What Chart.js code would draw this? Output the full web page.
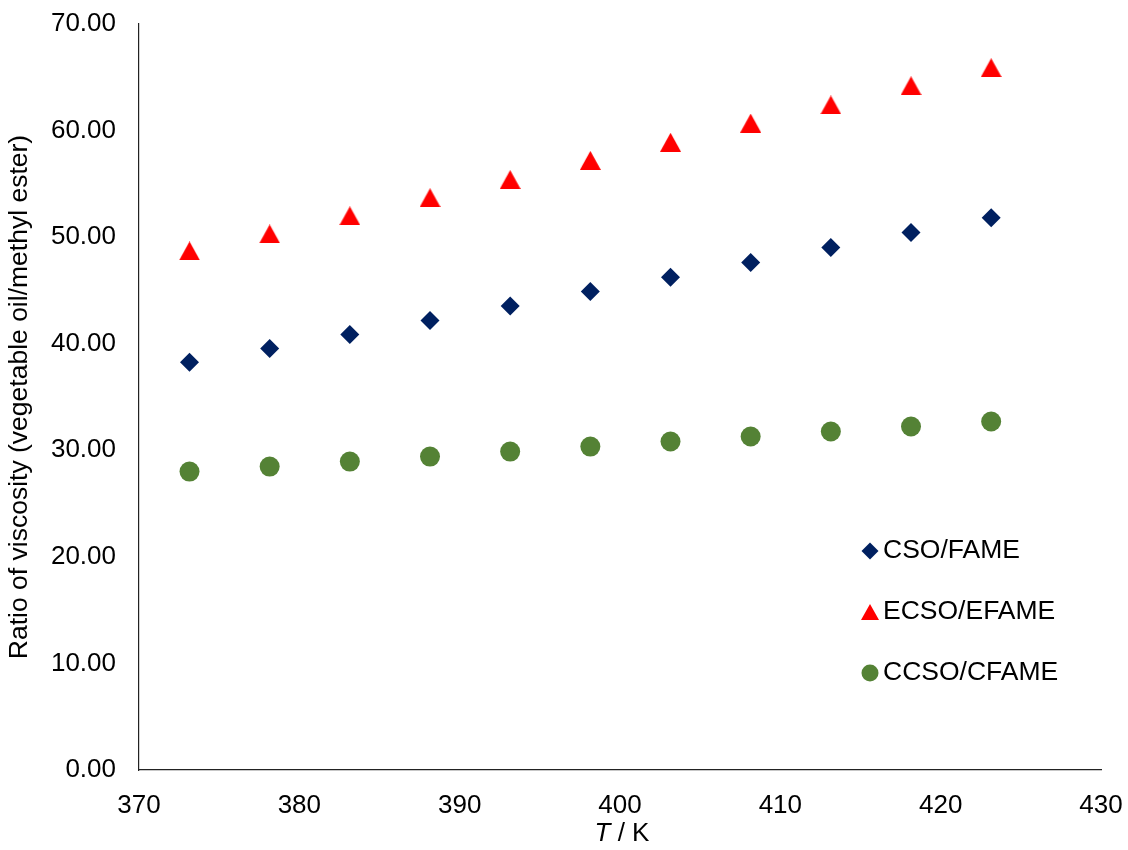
<!DOCTYPE html>
<html>
<head>
<meta charset="utf-8">
<script src="https://cdn.jsdelivr.net/npm/chart.js@4.4.1/dist/chart.umd.min.js"></script>
<style>
  html, body { margin: 0; padding: 0; background: #fff; }
  #wrap { width: 1128px; height: 850px; }
</style>
</head>
<body>
<div id="wrap"><canvas id="viscChart" width="1128" height="850"></canvas></div>
<script>
// temperatures, K
const temps = [373.15, 378.15, 383.15, 388.15, 393.15, 398.15, 403.15, 408.15, 413.15, 418.15, 423.15];

// ratio of viscosity (vegetable oil / methyl ester)
const csoFame = [38.25, 39.55, 40.87, 42.18, 43.55, 44.90, 46.24, 47.62, 49.03, 50.43, 51.82];
const ecsoEfame = [48.7, 50.3, 52.0, 53.7, 55.4, 57.2, 58.9, 60.7, 62.4, 64.2, 65.9];
const ccsoCfame = [28.0, 28.47, 28.94, 29.41, 29.88, 30.35, 30.82, 31.29, 31.76, 32.23, 32.7];

const seriesNames = ['CSO/FAME', 'ECSO/EFAME', 'CCSO/CFAME'];
const seriesColors = ['#002060', '#FF0000', '#548235'];

const FONT = '"Liberation Sans", Arial, Helvetica, sans-serif';

// triangle centred on its box, like the Excel marker
function triangleImage(w, h, color) {
  const c = document.createElement('canvas');
  c.width = w; c.height = h;
  const g = c.getContext('2d');
  g.fillStyle = color;
  g.beginPath();
  g.moveTo(w / 2, 0);
  g.lineTo(w, h);
  g.lineTo(0, h);
  g.closePath();
  g.fill();
  return c;
}

const triBig = triangleImage(21, 19, seriesColors[1]);
const triSmall = triangleImage(18, 16, seriesColors[1]);

function toPoints(ys) {
  return temps.map((t, i) => ({ x: t, y: ys[i] }));
}

// stop the scales from pushing the plot area in for their end labels
function noScalePadding(scale) {
  scale.paddingTop = 0;
  scale.paddingBottom = 0;
  scale.paddingLeft = 0;
  scale.paddingRight = 0;
}

// legend drawn inside the plot, lower right
const insideLegend = {
  id: 'insideLegend',
  afterDraw(chart) {
    const ctx = chart.ctx;
    const rows = [551, 612, 673];
    const mx = 870, tx = 883;
    ctx.save();
    ctx.font = '26.5px ' + FONT;
    ctx.textBaseline = 'middle';
    ctx.textAlign = 'left';
    rows.forEach((y, i) => {
      ctx.fillStyle = seriesColors[i];
      if (i === 0) {
        ctx.beginPath();
        ctx.moveTo(mx, y - 8.5);
        ctx.lineTo(mx + 8.5, y);
        ctx.lineTo(mx, y + 8.5);
        ctx.lineTo(mx - 8.5, y);
        ctx.closePath();
        ctx.fill();
      } else if (i === 1) {
        ctx.drawImage(triSmall, mx - 9, y - 8);
      } else {
        ctx.beginPath();
        ctx.arc(mx, y, 8.5, 0, Math.PI * 2);
        ctx.fill();
      }
      ctx.fillStyle = '#000';
      ctx.fillText(seriesNames[i], tx, y);
    });
    ctx.restore();
  }
};

// x axis title with italic T
const xTitle = {
  id: 'xTitle',
  afterDraw(chart) {
    const ctx = chart.ctx;
    const area = chart.chartArea;
    const cx = (area.left + area.right) / 2 + 2;
    const y = 834;
    ctx.save();
    ctx.textBaseline = 'middle';
    ctx.textAlign = 'left';
    ctx.fillStyle = '#000';
    ctx.font = 'italic 26px ' + FONT;
    const a = 'T';
    const wa = ctx.measureText(a).width;
    ctx.font = '26px ' + FONT;
    const b = ' / K';
    const wb = ctx.measureText(b).width;
    const x0 = cx - (wa + wb) / 2;
    ctx.font = 'italic 26px ' + FONT;
    ctx.fillText(a, x0, y);
    ctx.font = '26px ' + FONT;
    ctx.fillText(b, x0 + wa, y);
    ctx.restore();
  }
};

new Chart(document.getElementById('viscChart'), {
  type: 'scatter',
  data: {
    datasets: [
      {
        label: seriesNames[0],
        data: toPoints(csoFame),
        pointStyle: 'rectRot',
        pointRadius: 9.5,
        backgroundColor: seriesColors[0],
        borderColor: seriesColors[0],
        borderWidth: 0
      },
      {
        label: seriesNames[1],
        data: toPoints(ecsoEfame),
        pointStyle: triBig,
        pointRadius: 10,
        backgroundColor: seriesColors[1],
        borderColor: seriesColors[1],
        borderWidth: 0
      },
      {
        label: seriesNames[2],
        data: toPoints(ccsoCfame),
        pointStyle: 'circle',
        pointRadius: 10,
        backgroundColor: seriesColors[2],
        borderColor: seriesColors[2],
        borderWidth: 0
      }
    ]
  },
  options: {
    responsive: false,
    animation: false,
    events: [],
    layout: { autoPadding: false, padding: { top: 24, right: 27, left: 0, bottom: 0 } },
    plugins: {
      legend: { display: false },
      tooltip: { enabled: false }
    },
    scales: {
      x: {
        type: 'linear',
        min: 370,
        max: 430,
        grid: { display: false, drawTicks: false },
        border: { display: true, color: '#222', width: 1.2 },
        ticks: {
          stepSize: 10,
          padding: 20,
          color: '#000',
          font: { family: FONT, size: 26 }
        },
        afterFit(scale) {
          scale.height = 80;
          noScalePadding(scale);
        }
      },
      y: {
        min: 0,
        max: 70,
        grid: { display: false, drawTicks: false },
        border: { display: true, color: '#222', width: 1.2 },
        ticks: {
          stepSize: 10,
          padding: 23,
          color: '#000',
          font: { family: FONT, size: 26 },
          callback: v => v.toFixed(2)
        },
        title: {
          display: true,
          text: 'Ratio of viscosity (vegetable oil/methyl ester)',
          color: '#000',
          font: { family: FONT, size: 26.5 },
          padding: { top: 4, bottom: 0 }
        },
        afterFit(scale) {
          scale.width = 139;
          noScalePadding(scale);
        }
      }
    }
  },
  plugins: [insideLegend, xTitle]
});
</script>
</body>
</html>
